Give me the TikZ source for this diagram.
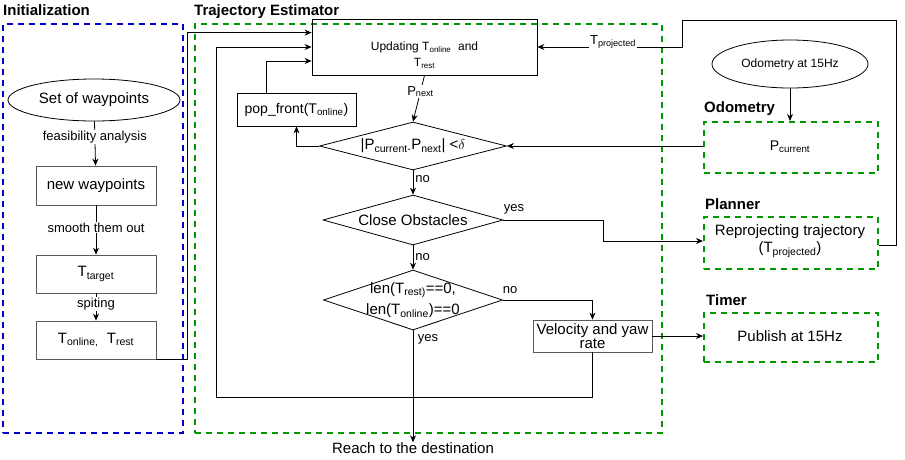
\documentclass[tikz,border=0pt]{standalone}
\usepackage{fontspec}
\setmainfont{Liberation Sans}
\usetikzlibrary{shapes.geometric,arrows.meta}
\definecolor{grn}{RGB}{0,153,0}
\definecolor{blu}{RGB}{0,0,204}
\definecolor{bgray}{RGB}{90,90,90}
\begin{document}
\begin{tikzpicture}[x=1pt,y=-1pt,
  fs/.style={font=\fontsize{#1}{\fpeval{#1*1.15}}\selectfont},
  grpg/.style={draw=grn,line width=1.6pt,dash pattern=on 6pt off 5pt,rectangle,anchor=north west,inner sep=0pt},
  grpb/.style={draw=blu,line width=1.6pt,dash pattern=on 6pt off 5pt,rectangle,anchor=north west,inner sep=0pt},
  ttl/.style={font=\fontsize{15}{17}\selectfont\bfseries,anchor=west,inner sep=0pt},
  box/.style={draw,rectangle,align=center,inner sep=1pt,line width=0.8pt},
  gbox/.style={box,draw=bgray},
  dia/.style={draw,diamond,inner sep=0pt,line width=0.8pt},
  dtxt/.style={fs=15,align=center,inner sep=0pt},
  lbl/.style={fs=13,fill=white,inner sep=1pt},
  arr/.style={-{Stealth[length=7pt,width=6pt]},line width=0.8pt},
  ln/.style={line width=0.8pt}]
\useasboundingbox (0,0) rectangle (905,459);

% group frames
\node[grpb,minimum width=180pt,minimum height=409pt] (init) at (2,23) {};
\node[grpg,minimum width=467pt,minimum height=409pt] (te) at (194,23) {};
\node[ttl] (tinit) at (3,10) {Initialization};
\node[ttl] (tte) at (194,12) {Trajectory Estimator};

% initialization column
\node[draw,ellipse,line width=0.8pt,minimum width=172pt,minimum height=42pt,fs=15] (sow) at (94,100) {Set of waypoints};
\node[gbox,minimum width=120pt,minimum height=39pt,fs=15] (nw) at (96,185.5) {new waypoints};
\node[gbox,minimum width=120pt,minimum height=38pt,fs=15] (tt) at (96,274) {T\textsubscript{target}};
\node[gbox,minimum width=120pt,minimum height=38pt,fs=15] (to) at (96,340) {T\textsubscript{online,}\ \ T\textsubscript{rest}};

\draw[arr] (sow) -- node[lbl,pos=0.35] {feasibility analysis} (nw);
\draw[arr] (nw) -- node[lbl,pos=0.45] {smooth them out} (tt);
\draw[arr] (tt) -- node[lbl,pos=0.4] {spiting} (to);

% trajectory estimator
\node[box,minimum width=225pt,minimum height=56pt] (upd) at (424.5,47) {};
\node[fs=12,align=center,inner sep=0pt] (updt) at (424.5,55) {Updating T\textsubscript{online}\ \ and\\[2pt]T\textsubscript{rest}};
\node[box,minimum width=119pt,minimum height=33pt,fs=14] (pop) at (296.5,109.5) {pop\_front(T\textsubscript{online})};
\node[dia,minimum width=187pt,minimum height=48pt] (d1) at (413,146) {};
\node[dtxt] (d1t) at (d1.center) {|P\textsubscript{current-}P\textsubscript{next}| <$\delta$};
\node[dia,minimum width=180pt,minimum height=50pt] (d2) at (413,220) {};
\node[dtxt] (d2t) at (d2.center) {Close Obstacles};
\node[dia,minimum width=179pt,minimum height=60pt] (d3) at (413,300) {};
\node[dtxt] (d3t) at (d3.center) {len(T\textsubscript{rest)}==0,\\[4pt]len(T\textsubscript{online})==0};
\node[gbox,minimum width=119pt,minimum height=32pt,fs=15] (vel) at (592.5,336) {Velocity and yaw\\[-3pt]rate};
\node[fs=15,inner sep=0pt] (dest) at (413,448) {Reach to the destination};

% right column
\node[draw,ellipse,line width=0.8pt,minimum width=156pt,minimum height=48pt,fs=12] (oe) at (790,64) {Odometry at 15Hz};
\node[grpg,minimum width=174pt,minimum height=51pt] (odo) at (703,121) {};
\node[fs=14] (pcur) at (790,147) {P\textsubscript{current}};
\node[ttl] (todo) at (704,109) {Odometry};
\node[grpg,minimum width=174pt,minimum height=52pt] (plan) at (703,216) {};
\node[fs=15,align=center] (reproj) at (790,241) {Reprojecting trajectory\\(T\textsubscript{projected})};
\node[ttl] (tplan) at (705,204) {Planner};
\node[grpg,minimum width=174pt,minimum height=49pt] (tim) at (703,312) {};
\node[fs=15] (pub) at (790,336) {Publish at 15Hz};
\node[ttl] (ttim) at (706,300) {Timer};

% connectors
\draw[arr] (to.south east) -- ++(31,0) |- ([yshift=-14pt]upd.north west);
\draw[arr] (vel.south) -- ++(0,45) -| ++(-376,0) |- (upd.west);
\draw[arr] ([xshift=-30pt]pop.north) |- ([yshift=-14pt]upd.west);
\draw[arr] (d1.west) -| (pop.south);
\draw[arr] (upd.south) -- node[lbl,pos=0.35] {P\textsubscript{next}} (d1.north);
\draw[arr] (odo.west |- d1.east) -- (d1.east);
\draw[arr] (d1.south) -- node[fs=13,right,pos=0.35,inner sep=2pt] {no} (d2.north);
\draw[arr] (d2.east) -- ++(100,0) |- (plan.west |- 0,241);
\node[fs=13] (yes1) at (514,209) {yes};
\draw[arr] (d2.south) -- node[fs=13,right,pos=0.5,inner sep=2pt] {no} (d3.north);
\draw[arr] (d3.east) -| (vel.north);
\node[fs=13] (no3) at (510,290) {no};
\draw[arr] (d3.south) -- (dest.north);
\node[fs=13] (yes3) at (428,339) {yes};
\draw[arr] (vel.east) -- (tim.west |- vel.east);
\draw[arr] (oe.south) -- (odo.north -| oe.south);
\draw[arr] (plan.east |- 0,245) -- (896,245) -- (896,20) -- (682,20) |- (upd.east);
\node[fs=13,fill=white,inner sep=1pt] (tproj) at (613,42) {T\textsubscript{projected}};
\end{tikzpicture}
\end{document}
